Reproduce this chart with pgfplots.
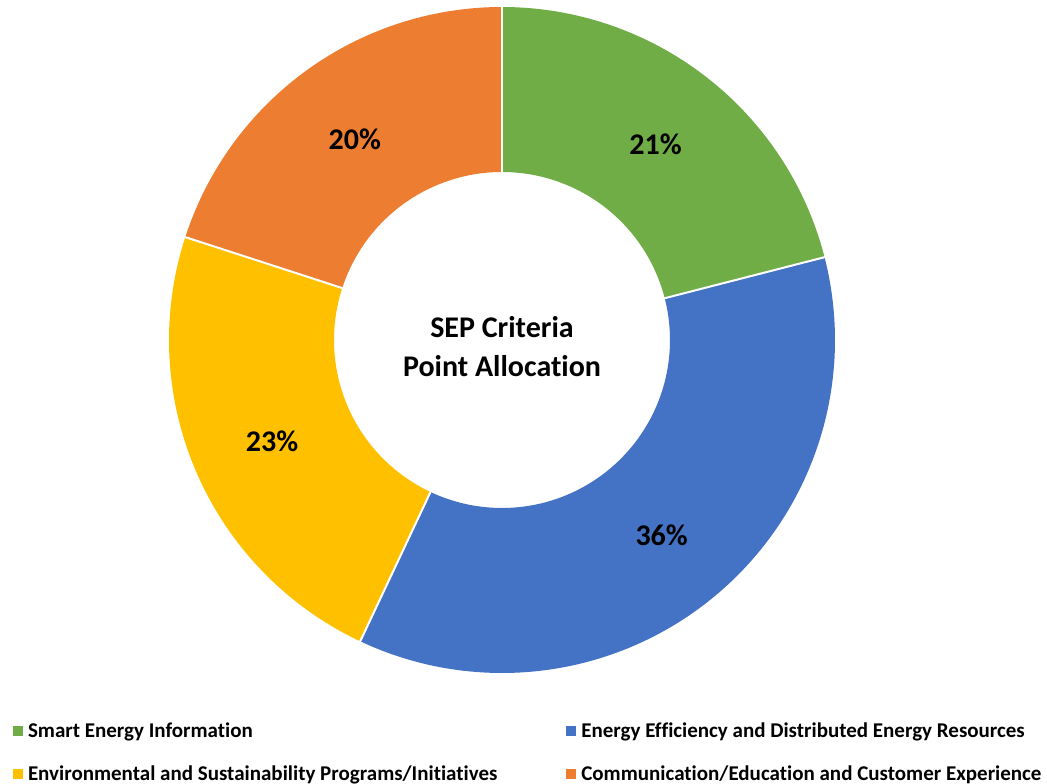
\documentclass[border=0pt]{standalone}
\usepackage{pgfplots}
\pgfplotsset{compat=1.18}
\usepackage{fontspec}
\setmainfont{Carlito}[Ligatures=NoCommon]
\definecolor{cgreen}{HTML}{70AD47}
\definecolor{cblue}{HTML}{4472C4}
\definecolor{cyellow}{HTML}{FFC000}
\definecolor{corange}{HTML}{ED7D31}
\begin{document}
\begin{tikzpicture}
\def\Ro{333}\def\Ri{168}
\pgfmathsetmacro\Rm{(\Ro+\Ri)/2}
\pgfmathsetmacro\W{\Ro-\Ri}
% shares in percent
\def\vA{21}\def\vB{36}\def\vC{23}\def\vD{20}
\pgfmathsetmacro\aA{90}
\pgfmathsetmacro\aB{\aA-3.6*\vA}
\pgfmathsetmacro\aC{\aB-3.6*\vB}
\pgfmathsetmacro\aD{\aC-3.6*\vC}
\pgfmathsetmacro\aE{\aD-3.6*\vD}
\begin{axis}[name=ax, x=1pt, y=1pt, xmin=-502, xmax=545, ymin=-444, ymax=340,
  hide axis, clip=false, samples=120,
  legend columns=2,
  legend cell align=left,
  legend image code/.code={\fill[#1, line width=0pt] (0pt,-4.5pt) rectangle (9pt,4.5pt);},
  legend style={draw=none, fill=none, inner sep=0pt, outer sep=0pt,
    font=\bfseries\fontsize{21}{25}\selectfont,
    at={(axis cs:-489,-412.5)}, anchor=west,
    row sep=23pt,
    /tikz/every odd column/.append style={column sep=4pt},
    /tikz/every even column/.append style={column sep=67pt}},
]
\addplot[cgreen, line width=\W pt, domain=\aB:\aA] ({\Rm*cos(x)},{\Rm*sin(x)});
\addlegendentry{Smart Energy Information}
\addplot[cblue, line width=\W pt, domain=\aC:\aB] ({\Rm*cos(x)},{\Rm*sin(x)});
\addlegendentry{Energy Efficiency and Distributed Energy Resources}
\addplot[cyellow, line width=\W pt, domain=\aD:\aC] ({\Rm*cos(x)},{\Rm*sin(x)});
\addlegendentry{Environmental and Sustainability Programs/Initiatives}
\addplot[corange, line width=\W pt, domain=\aE:\aD] ({\Rm*cos(x)},{\Rm*sin(x)});
\addlegendentry{Communication/Education and Customer Experience}
% white separators
\addplot[white, line width=2pt, domain=\Ri-2:\Ro+2, samples=2, forget plot] ({x*cos(\aA)},{x*sin(\aA)});
\addplot[white, line width=2pt, domain=\Ri-2:\Ro+2, samples=2, forget plot] ({x*cos(\aB)},{x*sin(\aB)});
\addplot[white, line width=2pt, domain=\Ri-2:\Ro+2, samples=2, forget plot] ({x*cos(\aC)},{x*sin(\aC)});
\addplot[white, line width=2pt, domain=\Ri-2:\Ro+2, samples=2, forget plot] ({x*cos(\aD)},{x*sin(\aD)});
% labels
\pgfmathsetmacro\mA{(\aA+\aB)/2}
\pgfmathsetmacro\mB{(\aB+\aC)/2}
\pgfmathsetmacro\mC{(\aC+\aD)/2}
\pgfmathsetmacro\mD{(\aD+\aE)/2}
\node[font=\bfseries\fontsize{30}{34}\selectfont] at (axis cs:{\Rm*cos(\mA)},{\Rm*sin(\mA)-2}) {\vA\%};
\node[font=\bfseries\fontsize{30}{34}\selectfont] at (axis cs:{\Rm*cos(\mB)},{\Rm*sin(\mB)-2}) {\vB\%};
\node[font=\bfseries\fontsize{30}{34}\selectfont] at (axis cs:{\Rm*cos(\mC)},{\Rm*sin(\mC)-2}) {\vC\%};
\node[font=\bfseries\fontsize{30}{34}\selectfont] at (axis cs:{\Rm*cos(\mD)},{\Rm*sin(\mD)-2}) {\vD\%};
\node[align=center, font=\bfseries\fontsize{30}{39}\selectfont] at (axis cs:0,-6.5) {SEP Criteria\\Point Allocation};
\end{axis}
\pgfresetboundingbox
\path (ax.south west) rectangle (ax.north east);
\end{tikzpicture}
\end{document}
